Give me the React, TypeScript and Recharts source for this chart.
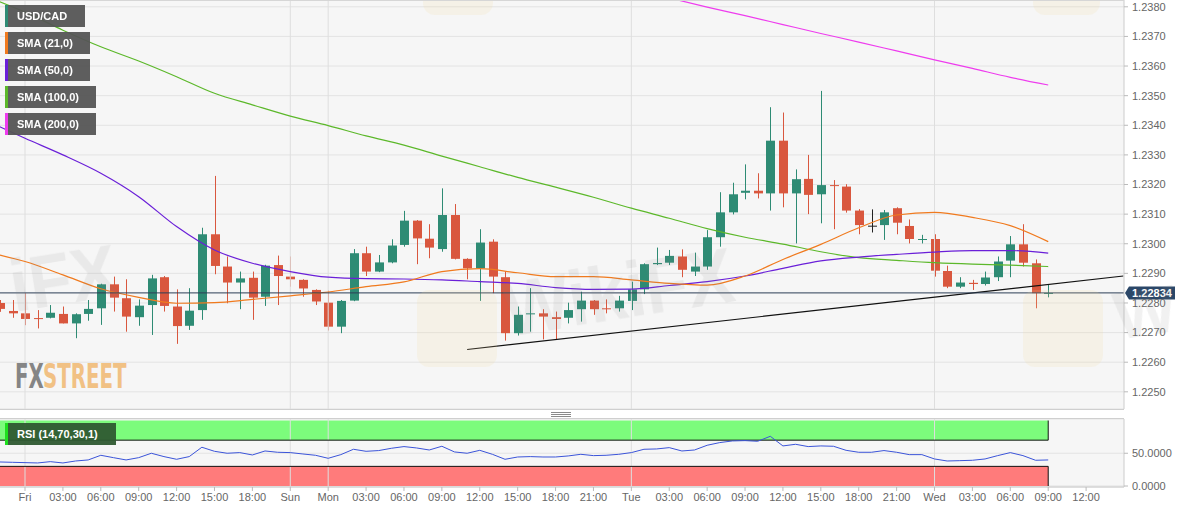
import React from 'react'
import { ComposedChart, Bar, Line, XAxis, YAxis, CartesianGrid, ReferenceLine, ReferenceArea } from 'recharts'

// hourly candles, Thu 22:00 .. Wed 09:00 (index 1..84)
const opens = [
  1.22800, 1.22773, 1.22765, 1.22749, 1.22750, 1.22763, 1.22731, 1.22763, 1.22782, 1.22863,
  1.22816, 1.22752, 1.22793, 1.22887, 1.22788, 1.22723, 1.22776, 1.23032, 1.22923, 1.22869,
  1.22885, 1.22821, 1.22928, 1.22889, 1.22878, 1.22844, 1.22801, 1.22720, 1.22808, 1.22968,
  1.22906, 1.22937, 1.22996, 1.23078, 1.23017, 1.22982, 1.23097, 1.22949, 1.22917, 1.23007,
  1.22887, 1.22698, 1.22762, 1.22765, 1.22752, 1.22750, 1.22779, 1.22808, 1.22782, 1.22782,
  1.22807, 1.22846, 1.22931, 1.22936, 1.22957, 1.22906, 1.22923, 1.23022, 1.23106, 1.23172,
  1.23179, 1.23170, 1.23348, 1.23170, 1.23219, 1.23167, 1.23198, 1.23193, 1.23112, 1.23061,
  1.23063, 1.23120, 1.23060, 1.23014, 1.23016, 1.22908, 1.22855, 1.22868, 1.22864, 1.22887,
  1.22943, 1.22998, 1.22934, 1.22833,
]
const highs = [
  1.22810, 1.22810, 1.22833, 1.22776, 1.22793, 1.22788, 1.22765, 1.22810, 1.22865, 1.22889,
  1.22880, 1.22812, 1.22895, 1.22891, 1.22846, 1.22850, 1.23054, 1.23229, 1.22957, 1.22906,
  1.22906, 1.22929, 1.22960, 1.22957, 1.22880, 1.22846, 1.22842, 1.22810, 1.22982, 1.22990,
  1.22962, 1.23015, 1.23111, 1.23080, 1.23066, 1.23187, 1.23134, 1.22951, 1.23049, 1.23015,
  1.22906, 1.22788, 1.22850, 1.22779, 1.22771, 1.22801, 1.22838, 1.22810, 1.22812, 1.22824,
  1.22872, 1.22934, 1.22987, 1.22979, 1.22981, 1.22970, 1.23046, 1.23174, 1.23206, 1.23268,
  1.23238, 1.23461, 1.23443, 1.23251, 1.23300, 1.23516, 1.23215, 1.23201, 1.23117, 1.23116,
  1.23114, 1.23123, 1.23082, 1.23030, 1.23032, 1.22926, 1.22887, 1.22878, 1.22906, 1.22957,
  1.23026, 1.23066, 1.22947, 1.22864,
]
const lows = [
  1.22770, 1.22750, 1.22725, 1.22714, 1.22748, 1.22731, 1.22681, 1.22740, 1.22726, 1.22771,
  1.22703, 1.22723, 1.22692, 1.22771, 1.22662, 1.22709, 1.22743, 1.22897, 1.22799, 1.22779,
  1.22743, 1.22790, 1.22793, 1.22855, 1.22821, 1.22793, 1.22707, 1.22698, 1.22806, 1.22891,
  1.22904, 1.22934, 1.22990, 1.22931, 1.22951, 1.22973, 1.22947, 1.22880, 1.22807, 1.22833,
  1.22673, 1.22690, 1.22703, 1.22677, 1.22677, 1.22731, 1.22737, 1.22760, 1.22765, 1.22771,
  1.22776, 1.22830, 1.22928, 1.22928, 1.22887, 1.22891, 1.22912, 1.22990, 1.23099, 1.23150,
  1.23153, 1.23112, 1.23123, 1.23001, 1.23100, 1.23069, 1.23049, 1.23105, 1.23032, 1.23038,
  1.23013, 1.23032, 1.23001, 1.23001, 1.22889, 1.22850, 1.22850, 1.22844, 1.22859, 1.22874,
  1.22887, 1.22923, 1.22782, 1.22819,
]
const closes = [
  1.22780, 1.22765, 1.22746, 1.22746, 1.22767, 1.22731, 1.22762, 1.22780, 1.22863, 1.22818,
  1.22754, 1.22791, 1.22883, 1.22790, 1.22722, 1.22774, 1.23032, 1.22925, 1.22869, 1.22883,
  1.22818, 1.22926, 1.22891, 1.22880, 1.22849, 1.22805, 1.22720, 1.22807, 1.22968, 1.22906,
  1.22937, 1.22994, 1.23078, 1.23018, 1.22987, 1.23097, 1.22949, 1.22917, 1.23004, 1.22889,
  1.22698, 1.22760, 1.22765, 1.22754, 1.22746, 1.22776, 1.22808, 1.22779, 1.22779, 1.22808,
  1.22846, 1.22931, 1.22935, 1.22959, 1.22912, 1.22923, 1.23022, 1.23106, 1.23167, 1.23179,
  1.23170, 1.23348, 1.23170, 1.23218, 1.23165, 1.23198, 1.23195, 1.23112, 1.23063, 1.23061,
  1.23106, 1.23071, 1.23016, 1.23016, 1.22909, 1.22855, 1.22869, 1.22864, 1.22886, 1.22940,
  1.22998, 1.22936, 1.22833, 1.22834,
]
const rsiValues = [
  36.7, 36.2, 35.7, 35.2, 37.2, 35.2, 38.2, 39.8, 46.9, 43.3,
  39.8, 43.3, 50.0, 44.9, 40.8, 44.9, 59.2, 53.0, 50.0, 51.0,
  47.4, 53.5, 51.5, 51.0, 48.9, 46.9, 42.3, 47.9, 56.1, 53.0,
  54.1, 57.6, 60.2, 58.1, 55.0, 60.7, 52.0, 50.0, 54.5, 48.4,
  40.8, 44.3, 44.9, 44.3, 44.3, 45.9, 48.4, 46.4, 46.9, 48.4,
  51.0, 56.1, 56.6, 58.6, 53.5, 55.0, 62.2, 66.3, 68.8, 69.3,
  68.3, 75.9, 61.2, 63.7, 60.2, 61.2, 60.7, 54.5, 51.5, 51.5,
  54.1, 51.5, 47.9, 47.9, 41.3, 38.2, 38.7, 39.3, 41.3, 46.4,
  51.0, 46.4, 39.3, 39.8,
]

// moving averages at every third candle
const smaIdx = [1, 3, 6, 9, 12, 15, 18, 21, 24, 27, 30, 33, 36, 39, 42, 45, 48, 51, 54, 57, 60, 63, 66, 69, 72, 75, 78, 81, 84]
const sma21 = [
  1.22962, 1.22940, 1.22895, 1.22848, 1.22819, 1.22799, 1.22801, 1.22812, 1.22824, 1.22837,
  1.22855, 1.22871, 1.22906, 1.22916, 1.22902, 1.22889, 1.22889, 1.22878, 1.22866, 1.22860,
  1.22891, 1.22947, 1.22998, 1.23054, 1.23097, 1.23106, 1.23089, 1.23061, 1.23007,
]
const sma50 = [
  1.23395, 1.23356, 1.23300, 1.23238, 1.23159, 1.23058, 1.22979, 1.22934, 1.22906, 1.22887,
  1.22882, 1.22881, 1.22878, 1.22872, 1.22866, 1.22852, 1.22846, 1.22847, 1.22859, 1.22872,
  1.22891, 1.22917, 1.22942, 1.22955, 1.22964, 1.22972, 1.22977, 1.22977, 1.22968,
]
const sma100 = [
  1.23817, 1.23782, 1.23721, 1.23665, 1.23617, 1.23564, 1.23508, 1.23469, 1.23431, 1.23399,
  1.23364, 1.23333, 1.23296, 1.23260, 1.23224, 1.23191, 1.23157, 1.23120, 1.23086, 1.23051,
  1.23022, 1.22999, 1.22973, 1.22953, 1.22944, 1.22936, 1.22931, 1.22928, 1.22923,
]
const sma200Idx = [54, 57, 60, 63, 66, 69, 72, 75, 78, 81, 84]
const sma200 = [1.23830, 1.23799, 1.23770, 1.23740, 1.23710, 1.23681, 1.23651, 1.23621, 1.23592, 1.23562, 1.23536]

const tickIdx = [3, 6, 9, 12, 15, 18, 21, 24, 27, 30, 33, 36, 39, 42, 45, 48, 51, 54, 57, 60, 63, 66, 69, 72, 75, 78, 81, 84, 87]
const tickLabels = [
  'Fri', '03:00', '06:00', '09:00', '12:00', '15:00', '18:00', 'Sun', 'Mon', '03:00', '06:00', '09:00', '12:00', '15:00',
  '18:00', '21:00', 'Tue', '03:00', '06:00', '09:00', '12:00', '15:00', '18:00', '21:00', 'Wed', '03:00', '06:00', '09:00', '12:00',
]
const dayIdx = [3, 24, 27, 51, 75]
const priceTicks = [1.2250, 1.2260, 1.2270, 1.2280, 1.2290, 1.2300, 1.2310, 1.2320, 1.2330, 1.2340, 1.2350, 1.2360, 1.2370, 1.2380]
const rsiTicks = [0, 50]
const lastPrice = 1.22834
const trendStart = { i: 38, p: 1.22643 }
const trendEnd = { i: 89.95, p: 1.22891 }

const UP = '#2e8b74'
const DOWN = '#d9573e'
const DOJI = '#222222'
const C21 = '#f07a1e'
const C50 = '#6a1fd8'
const C100 = '#5cb82a'
const C200 = '#ee3cee'
const FONT = "'Liberation Sans', Arial, sans-serif"
const NARROW = "'DejaVu Sans Condensed', 'Liberation Sans Narrow', sans-serif"

const X_DOMAIN: [number, number] = [1.02, 90]
const PLOT_W = 1124
const AXIS_W = 70
const MAIN_H = 409
const RSI_TOP = 419
const RSI_H = 94

const rows = opens.map((o, k) => {
  const i = k + 1
  const s = smaIdx.indexOf(i)
  const s2 = sma200Idx.indexOf(i)
  return {
    i,
    open: o,
    high: highs[k],
    low: lows[k],
    close: closes[k],
    range: [lows[k], highs[k]],
    rsi: rsiValues[k],
    sma21: s >= 0 ? sma21[s] : null,
    sma50: s >= 0 ? sma50[s] : null,
    sma100: s >= 0 ? sma100[s] : null,
    sma200: s2 >= 0 ? sma200[s2] : null,
  }
})

const Candle = (props: any) => {
  const { x, y, width, height, payload } = props
  if (x == null || y == null) return null
  const top = height >= 0 ? y : y + height
  const h = Math.abs(height)
  const { open, close, high, low } = payload
  const cx = Math.round(x + width / 2) + 0.5
  const per = high - low > 0 ? h / (high - low) : 0
  const yo = top + (high - open) * per
  const yc = top + (high - close) * per
  const color = close > open ? UP : close < open ? DOWN : DOJI
  return (
    <g>
      <line x1={cx} x2={cx} y1={top} y2={top + h} stroke={color} strokeWidth={1} />
      <rect x={cx - 4.5} y={Math.min(yo, yc)} width={9} height={Math.max(1, Math.abs(yo - yc))} fill={color} />
    </g>
  )
}

const PriceTag = (props: any) => {
  const vb = props.viewBox || {}
  const x0 = (vb.x || 0) + (vb.width || 0)
  const yc = vb.y || 0
  return (
    <g>
      <polygon
        points={`${x0 + 1},${yc} ${x0 + 5},${yc - 6.5} ${x0 + 51},${yc - 6.5} ${x0 + 51},${yc + 6.5} ${x0 + 5},${yc + 6.5}`}
        fill="#2b4768"
      />
      <text x={x0 + 28} y={yc + 4} textAnchor="middle" fill="#fff" fontSize={11} fontWeight="bold" fontFamily={FONT}>
        {lastPrice.toFixed(5)}
      </text>
    </g>
  )
}

const legendItems = [
  { label: 'USD/CAD', color: UP, w: 80 },
  { label: 'SMA (21,0)', color: C21, w: 85 },
  { label: 'SMA (50,0)', color: C50, w: 85 },
  { label: 'SMA (100,0)', color: C100, w: 91 },
  { label: 'SMA (200,0)', color: C200, w: 91 },
]

const fmtTime = (v: number) => {
  const k = tickIdx.indexOf(v)
  return k >= 0 ? tickLabels[k] : ''
}

export default function App() {
  return (
    <div style={{ position: 'fixed', left: 0, top: 0, width: 1194, height: 513, background: '#fff', fontFamily: FONT }}>
      <div style={{ position: 'absolute', left: 0, top: 0 }}>
        <ComposedChart width={PLOT_W + AXIS_W} height={MAIN_H} data={rows} margin={{ top: 0, right: 0, bottom: 0, left: 0 }}>
          <CartesianGrid vertical={false} stroke="#e3e3e3" fill="#f6f6f6" />
          <XAxis dataKey="i" type="number" domain={X_DOMAIN} ticks={tickIdx} allowDataOverflow hide />
          <YAxis
            orientation="right"
            width={AXIS_W}
            domain={[1.22442, 1.23823]}
            ticks={priceTicks}
            allowDataOverflow
            tickFormatter={(v: number) => v.toFixed(4)}
            tick={{ fill: '#666', fontSize: 11, fontFamily: FONT }}
            tickSize={4}
            tickMargin={4}
            axisLine={{ stroke: '#cccccc' }}
            tickLine={{ stroke: '#bbbbbb' }}
          />
          {dayIdx.map((d) => (
            <ReferenceLine key={d} x={d} stroke="#dedede" />
          ))}
          <Bar dataKey="range" barSize={9} shape={<Candle />} isAnimationActive={false} />
          <Line dataKey="sma100" type="monotone" stroke={C100} strokeWidth={1.2} dot={false} connectNulls isAnimationActive={false} />
          <Line dataKey="sma50" type="monotone" stroke={C50} strokeWidth={1.2} dot={false} connectNulls isAnimationActive={false} />
          <Line dataKey="sma21" type="monotone" stroke={C21} strokeWidth={1.2} dot={false} connectNulls isAnimationActive={false} />
          <Line dataKey="sma200" type="monotone" stroke={C200} strokeWidth={1.2} dot={false} connectNulls isAnimationActive={false} />
          <ReferenceLine
            segment={[{ x: trendStart.i, y: trendStart.p }, { x: trendEnd.i, y: trendEnd.p }]}
            stroke="#111"
            strokeWidth={1.2}
          />
          <ReferenceLine y={lastPrice} stroke="#2c3e56" strokeWidth={1} label={(p: any) => <PriceTag {...p} />} />
        </ComposedChart>
      </div>

      <div style={{ position: 'absolute', left: 0, top: RSI_TOP }}>
        <ComposedChart width={PLOT_W + AXIS_W} height={RSI_H} data={rows} margin={{ top: 0, right: 0, bottom: 0, left: 0 }}>
          <CartesianGrid vertical={false} stroke="#e3e3e3" fill="#f6f6f6" />
          <XAxis
            dataKey="i"
            type="number"
            domain={X_DOMAIN}
            ticks={tickIdx}
            allowDataOverflow
            height={26}
            tickFormatter={fmtTime}
            tick={{ fill: '#666', fontSize: 11, fontFamily: FONT }}
            tickSize={4}
            tickMargin={2}
            axisLine={{ stroke: '#cccccc' }}
            tickLine={{ stroke: '#bbbbbb' }}
            interval={0}
          />
          <YAxis
            orientation="right"
            width={AXIS_W}
            domain={[-1.5, 102.3]}
            ticks={rsiTicks}
            allowDataOverflow
            tickFormatter={(v: number) => v.toFixed(4)}
            tick={{ fill: '#666', fontSize: 11, fontFamily: FONT }}
            tickSize={4}
            tickMargin={4}
            axisLine={{ stroke: '#cccccc' }}
            tickLine={{ stroke: '#bbbbbb' }}
          />
          {dayIdx.map((d) => (
            <ReferenceLine key={d} x={d} stroke="#dedede" />
          ))}
          <ReferenceArea x1={X_DOMAIN[0]} x2={84} y1={70} y2={100} fill="#7cfc7c" fillOpacity={1} stroke="none" />
          <ReferenceArea x1={X_DOMAIN[0]} x2={84} y1={0} y2={30} fill="#ff7b7b" fillOpacity={1} stroke="none" />
          <ReferenceLine segment={[{ x: X_DOMAIN[0], y: 70 }, { x: 84, y: 70 }]} stroke="#111" />
          <ReferenceLine segment={[{ x: X_DOMAIN[0], y: 30 }, { x: 84, y: 30 }]} stroke="#111" />
          <ReferenceLine segment={[{ x: 84, y: 70 }, { x: 84, y: 100 }]} stroke="#111" />
          <ReferenceLine segment={[{ x: 84, y: 0 }, { x: 84, y: 30 }]} stroke="#111" />
          <Line dataKey="rsi" type="linear" stroke="#3b54d9" strokeWidth={1} dot={false} isAnimationActive={false} />
        </ComposedChart>
      </div>

      <svg width={1194} height={513} style={{ position: 'absolute', left: 0, top: 0, pointerEvents: 'none' }}>
        {/* faint watermarks */}
        <g fill="#8a8a8a" opacity={0.12} fontFamily={FONT} fontWeight="bold">
          <text x={14} y={312} fontSize={74} textLength={108} lengthAdjust="spacingAndGlyphs" transform="rotate(-9 14 312)">iFX</text>
          <text x={508} y={337} fontSize={78} textLength={232} lengthAdjust="spacingAndGlyphs" transform="rotate(-9 508 337)">WikiFX</text>
          <text x={1118} y={340} fontSize={66} transform="rotate(-9 1118 340)">W</text>
        </g>
        <g fill="#f2dc9a" opacity={0.16}>
          <rect x={417} y={290} width={80} height={77} rx={12} />
          <rect x={1023} y={290} width={80} height={77} rx={12} />
          <rect x={423} y={-60} width={70} height={75} rx={12} />
          <rect x={1033} y={-60} width={67} height={75} rx={12} />
        </g>
        <g transform="scale(1 1.56)" fontSize={22} fontWeight="bold" fontFamily={NARROW}>
          <text x={15} y={248.7} fill="#858585">FX</text>
          <text x={43} y={248.7} fill="#f1c184">STREET</text>
        </g>

        {/* panel borders */}
        <line x1={0} x2={PLOT_W} y1={0.5} y2={0.5} stroke="#d6d6d6" />
        <line x1={0} x2={PLOT_W} y1={409.5} y2={409.5} stroke="#cfcfcf" />
        <line x1={0} x2={PLOT_W} y1={418.5} y2={418.5} stroke="#cfcfcf" />
        <g stroke="#8a8a8a">
          <line x1={551} x2={571} y1={412.5} y2={412.5} />
          <line x1={551} x2={571} y1={414.5} y2={414.5} />
          <line x1={551} x2={571} y1={416.5} y2={416.5} />
        </g>

        {/* legend */}
        {legendItems.map((it, k) => (
          <g key={it.label}>
            <rect x={5} y={5 + k * 27} width={it.w} height={22} fill="#555" opacity={0.95} />
            <rect x={5} y={5 + k * 27} width={3} height={22} fill={it.color} />
            <text x={17} y={20 + k * 27} fill="#fff" fontSize={11} fontWeight="bold" fontFamily={FONT}>{it.label}</text>
          </g>
        ))}
        <rect x={5} y={423} width={111} height={22} fill="#2f5a31" opacity={0.95} />
        <rect x={5} y={423} width={3} height={22} fill="#1fe01f" />
        <text x={17} y={438} fill="#fff" fontSize={11} fontWeight="bold" fontFamily={FONT}>RSI (14,70,30,1)</text>
      </svg>
    </div>
  )
}
